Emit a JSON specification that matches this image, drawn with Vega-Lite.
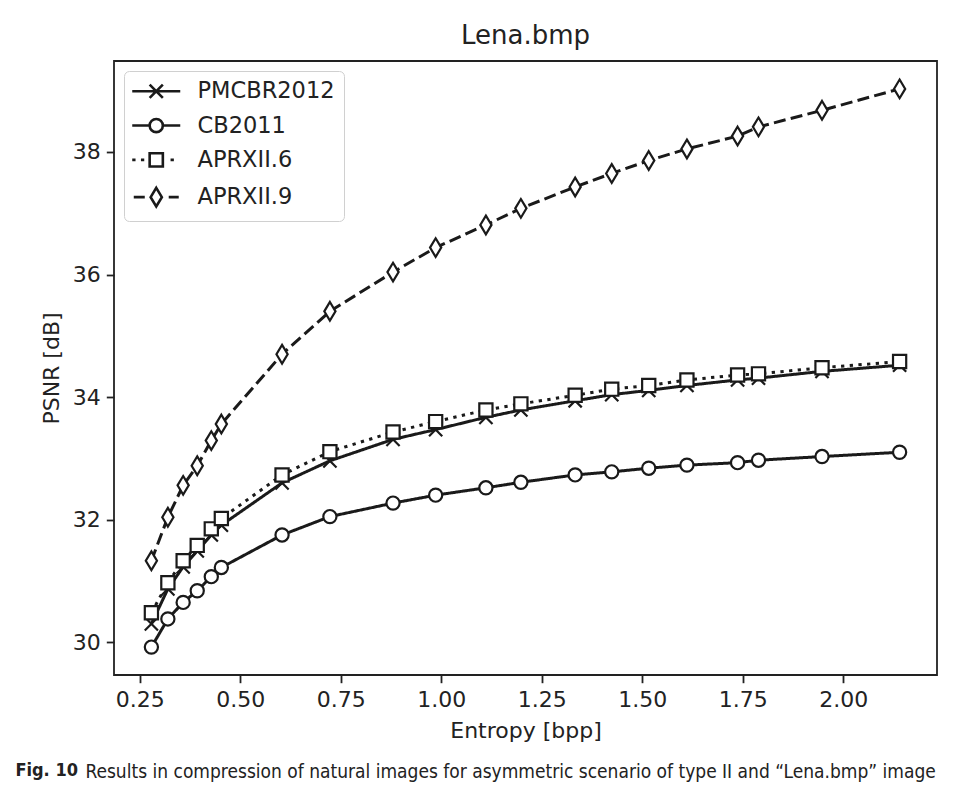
{
  "$schema": "https://vega.github.io/schema/vega-lite/v6.json",
  "background": "white",
  "padding": {"left": 15, "top": 22, "right": 18, "bottom": 10},
  "title": {"text": "Fig. 10", "orient": "bottom", "anchor": "start", "frame": "bounds", "font": "Liberation Sans Narrow, DejaVu Sans Condensed, Arial Narrow, sans-serif", "fontSize": 18, "fontWeight": "bold", "color": "#222", "dx": -24, "offset": -20},
  "datasets": {
    "psnr": [
      {"method": "PMCBR2012", "entropy": 0.279, "psnr": 30.30},
      {"method": "PMCBR2012", "entropy": 0.320, "psnr": 30.87},
      {"method": "PMCBR2012", "entropy": 0.358, "psnr": 31.23},
      {"method": "PMCBR2012", "entropy": 0.393, "psnr": 31.49},
      {"method": "PMCBR2012", "entropy": 0.428, "psnr": 31.75},
      {"method": "PMCBR2012", "entropy": 0.453, "psnr": 31.91},
      {"method": "PMCBR2012", "entropy": 0.604, "psnr": 32.60},
      {"method": "PMCBR2012", "entropy": 0.723, "psnr": 32.96},
      {"method": "PMCBR2012", "entropy": 0.880, "psnr": 33.31},
      {"method": "PMCBR2012", "entropy": 0.986, "psnr": 33.47},
      {"method": "PMCBR2012", "entropy": 1.111, "psnr": 33.67},
      {"method": "PMCBR2012", "entropy": 1.198, "psnr": 33.79},
      {"method": "PMCBR2012", "entropy": 1.333, "psnr": 33.94},
      {"method": "PMCBR2012", "entropy": 1.424, "psnr": 34.04},
      {"method": "PMCBR2012", "entropy": 1.516, "psnr": 34.11},
      {"method": "PMCBR2012", "entropy": 1.611, "psnr": 34.19},
      {"method": "PMCBR2012", "entropy": 1.737, "psnr": 34.28},
      {"method": "PMCBR2012", "entropy": 1.789, "psnr": 34.31},
      {"method": "PMCBR2012", "entropy": 1.947, "psnr": 34.42},
      {"method": "PMCBR2012", "entropy": 2.140, "psnr": 34.52},
      {"method": "CB2011", "entropy": 0.279, "psnr": 29.92},
      {"method": "CB2011", "entropy": 0.320, "psnr": 30.38},
      {"method": "CB2011", "entropy": 0.358, "psnr": 30.65},
      {"method": "CB2011", "entropy": 0.393, "psnr": 30.84},
      {"method": "CB2011", "entropy": 0.428, "psnr": 31.07},
      {"method": "CB2011", "entropy": 0.453, "psnr": 31.22},
      {"method": "CB2011", "entropy": 0.604, "psnr": 31.75},
      {"method": "CB2011", "entropy": 0.723, "psnr": 32.05},
      {"method": "CB2011", "entropy": 0.880, "psnr": 32.27},
      {"method": "CB2011", "entropy": 0.986, "psnr": 32.40},
      {"method": "CB2011", "entropy": 1.111, "psnr": 32.52},
      {"method": "CB2011", "entropy": 1.198, "psnr": 32.61},
      {"method": "CB2011", "entropy": 1.333, "psnr": 32.73},
      {"method": "CB2011", "entropy": 1.424, "psnr": 32.78},
      {"method": "CB2011", "entropy": 1.516, "psnr": 32.84},
      {"method": "CB2011", "entropy": 1.611, "psnr": 32.89},
      {"method": "CB2011", "entropy": 1.737, "psnr": 32.93},
      {"method": "CB2011", "entropy": 1.789, "psnr": 32.97},
      {"method": "CB2011", "entropy": 1.947, "psnr": 33.03},
      {"method": "CB2011", "entropy": 2.140, "psnr": 33.10},
      {"method": "APRXII.6", "entropy": 0.279, "psnr": 30.48},
      {"method": "APRXII.6", "entropy": 0.320, "psnr": 30.97},
      {"method": "APRXII.6", "entropy": 0.358, "psnr": 31.33},
      {"method": "APRXII.6", "entropy": 0.393, "psnr": 31.58},
      {"method": "APRXII.6", "entropy": 0.428, "psnr": 31.85},
      {"method": "APRXII.6", "entropy": 0.453, "psnr": 32.02},
      {"method": "APRXII.6", "entropy": 0.604, "psnr": 32.73},
      {"method": "APRXII.6", "entropy": 0.723, "psnr": 33.11},
      {"method": "APRXII.6", "entropy": 0.880, "psnr": 33.43},
      {"method": "APRXII.6", "entropy": 0.986, "psnr": 33.60},
      {"method": "APRXII.6", "entropy": 1.111, "psnr": 33.79},
      {"method": "APRXII.6", "entropy": 1.198, "psnr": 33.89},
      {"method": "APRXII.6", "entropy": 1.333, "psnr": 34.03},
      {"method": "APRXII.6", "entropy": 1.424, "psnr": 34.13},
      {"method": "APRXII.6", "entropy": 1.516, "psnr": 34.19},
      {"method": "APRXII.6", "entropy": 1.611, "psnr": 34.28},
      {"method": "APRXII.6", "entropy": 1.737, "psnr": 34.36},
      {"method": "APRXII.6", "entropy": 1.789, "psnr": 34.38},
      {"method": "APRXII.6", "entropy": 1.947, "psnr": 34.48},
      {"method": "APRXII.6", "entropy": 2.140, "psnr": 34.58},
      {"method": "APRXII.9", "entropy": 0.279, "psnr": 31.33},
      {"method": "APRXII.9", "entropy": 0.320, "psnr": 32.04},
      {"method": "APRXII.9", "entropy": 0.358, "psnr": 32.56},
      {"method": "APRXII.9", "entropy": 0.393, "psnr": 32.88},
      {"method": "APRXII.9", "entropy": 0.428, "psnr": 33.29},
      {"method": "APRXII.9", "entropy": 0.453, "psnr": 33.56},
      {"method": "APRXII.9", "entropy": 0.604, "psnr": 34.70},
      {"method": "APRXII.9", "entropy": 0.723, "psnr": 35.40},
      {"method": "APRXII.9", "entropy": 0.880, "psnr": 36.04},
      {"method": "APRXII.9", "entropy": 0.986, "psnr": 36.44},
      {"method": "APRXII.9", "entropy": 1.111, "psnr": 36.81},
      {"method": "APRXII.9", "entropy": 1.198, "psnr": 37.08},
      {"method": "APRXII.9", "entropy": 1.333, "psnr": 37.43},
      {"method": "APRXII.9", "entropy": 1.424, "psnr": 37.65},
      {"method": "APRXII.9", "entropy": 1.516, "psnr": 37.86},
      {"method": "APRXII.9", "entropy": 1.611, "psnr": 38.05},
      {"method": "APRXII.9", "entropy": 1.737, "psnr": 38.26},
      {"method": "APRXII.9", "entropy": 1.789, "psnr": 38.41},
      {"method": "APRXII.9", "entropy": 1.947, "psnr": 38.68},
      {"method": "APRXII.9", "entropy": 2.140, "psnr": 39.03}
    ]
  },
  "vconcat": [
    {
      "title": {"text": "Results in compression of natural images for asymmetric scenario of type II and “Lena.bmp” image", "orient": "bottom", "anchor": "start", "frame": "bounds", "font": "Liberation Sans Narrow, DejaVu Sans Condensed, Arial Narrow, sans-serif", "fontSize": 19, "fontWeight": "normal", "color": "#222", "dx": 46, "offset": 20},
      "vconcat": [
        {
          "title": {"text": "Lena.bmp", "font": "DejaVu Sans", "fontSize": 26, "fontWeight": "normal", "color": "#222", "offset": 12, "anchor": "middle", "frame": "group"},
          "width": 823,
          "height": 614,
          "data": {"name": "psnr"},
          "encoding": {
            "x": {"field": "entropy", "type": "quantitative", "title": "Entropy [bpp]",
              "scale": {"domain": [0.186, 2.233], "nice": false, "zero": false},
              "axis": {"values": [0.25, 0.5, 0.75, 1.0, 1.25, 1.5, 1.75, 2.0], "format": ".2f", "titlePadding": 10, "labelPadding": 7, "labelFlush": false}},
            "y": {"field": "psnr", "type": "quantitative", "title": "PSNR [dB]",
              "scale": {"domain": [29.465, 39.485], "nice": false, "zero": false},
              "axis": {"values": [30, 32, 34, 36, 38], "format": "d", "titlePadding": 9, "labelFlush": false}}
          },
          "layer": [
            {
              "mark": {"type": "line", "strokeWidth": 3, "color": "#1a1a1a", "clip": true},
              "encoding": {
                "detail": {"field": "method"},
                "strokeDash": {"field": "method", "type": "nominal",
                  "scale": {"domain": ["APRXII.9", "APRXII.6", "CB2011", "PMCBR2012"], "range": [[12, 5.3], [3.3, 5.4], [1, 0], [1, 0]]},
                  "legend": null}
              }
            },
            {
              "mark": {"type": "point", "filled": false, "fill": "white", "strokeWidth": 2.2, "size": 174, "opacity": 1},
              "encoding": {
                "shape": {"field": "method", "type": "nominal",
                  "scale": {"domain": ["CB2011", "PMCBR2012", "APRXII.6", "APRXII.9"],
                    "range": ["circle", "M-1,-1L1,1M-1,1L1,-1", "square", "M0,-1.414L0.849,0L0,1.414L-0.849,0Z"]},
                  "legend": null},
                "color": {"field": "method", "type": "nominal",
                  "scale": {"domain": ["PMCBR2012", "CB2011", "APRXII.6", "APRXII.9"], "range": ["#1a1a1a", "#1a1a1a", "#1a1a1a", "#1a1a1a"]},
                  "legend": {
                    "title": null, "orient": "top-left", "offset": 10, "padding": 9,
                    "symbolSize": 174, "symbolStrokeWidth": 2.6, "symbolOffset": 12, "labelOffset": 30,
                    "symbolFillColor": "white",
                    "symbolType": {"expr": "datum.value === 'PMCBR2012' ? 'M-3.64,0H3.64M-1,-1L1,1M-1,1L1,-1' : datum.value === 'CB2011' ? 'M-3.64,0H-1M1,0H3.64M1,0C1,0.552,0.552,1,0,1C-0.552,1,-1,0.552,-1,0C-1,-0.552,-0.552,-1,0,-1C0.552,-1,1,-0.552,1,0Z' : datum.value === 'APRXII.6' ? 'M-3.64,0H-3.14M-2.32,0H-1.82M2.17,0H2.67M-1,-1H1V1H-1Z' : 'M-3.41,0H-1.74M1.89,0H3.41M0,-1.414L0.849,0L0,1.414L-0.849,0Z'"},
                    "rowPadding": 9.3, "labelFont": "DejaVu Sans", "labelFontSize": 22.5, "labelColor": "#222",
                    "strokeColor": "#d0d0d0", "fillColor": "white", "cornerRadius": 5
                  }}
              }
            }
          ]
        }
      ]
    }
  ],
  "config": {
    "view": {"stroke": "#222", "strokeWidth": 1.8},
    "axis": {"labelFont": "DejaVu Sans", "labelFontSize": 22, "labelColor": "#222", "titleFont": "DejaVu Sans", "titleFontSize": 22, "titleFontWeight": "normal", "titleColor": "#222", "tickColor": "#222", "tickWidth": 1.8, "tickSize": 7.7, "labelPadding": 6, "domain": false, "grid": false}
  }
}
